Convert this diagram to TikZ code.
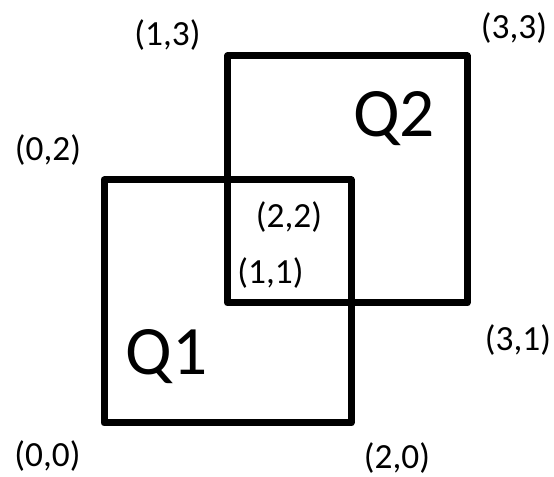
\documentclass[tikz,border=0pt]{standalone}
\usepackage{fontspec}
\setmainfont{Carlito}
\begin{document}
\begin{tikzpicture}[x=0.75pt,y=-0.75pt,
  sq/.style={draw=black,line width=5.25pt,line join=round},
  lbl/.style={anchor=base,inner sep=0pt,font=\fontsize{26.5}{30}\selectfont},
  big/.style={anchor=base,inner sep=0pt,font=\fontsize{52}{60}\selectfont}]
\useasboundingbox (0,0) rectangle (554,477);
% squares
\coordinate (q1a) at (104,423);
\coordinate (q1b) at (351,180);
\coordinate (q2a) at (227.5,303);
\coordinate (q2b) at (467,56);
\draw[sq] (q1a) rectangle (q1b);
\draw[sq] (q2a) rectangle (q2b);
% labels
\node[lbl] (l13) at (167.5,46) {(1,3)};
\node[lbl] (l33) at (514,39) {(3,3)};
\node[lbl] (l02) at (48,161) {(0,2)};
\node[lbl] (l22) at (289,228) {(2,2)};
\node[lbl] (l11) at (270.5,284) {(1,1)};
\node[lbl] (l31) at (518,351) {(3,1)};
\node[lbl] (l00) at (47.5,467) {(0,0)};
\node[lbl] (l20) at (397,469) {(2,0)};
\node[big] (q1) at (166.5,375) {Q1};
\node[big] (q2) at (394,137) {Q2};
\end{tikzpicture}
\end{document}
